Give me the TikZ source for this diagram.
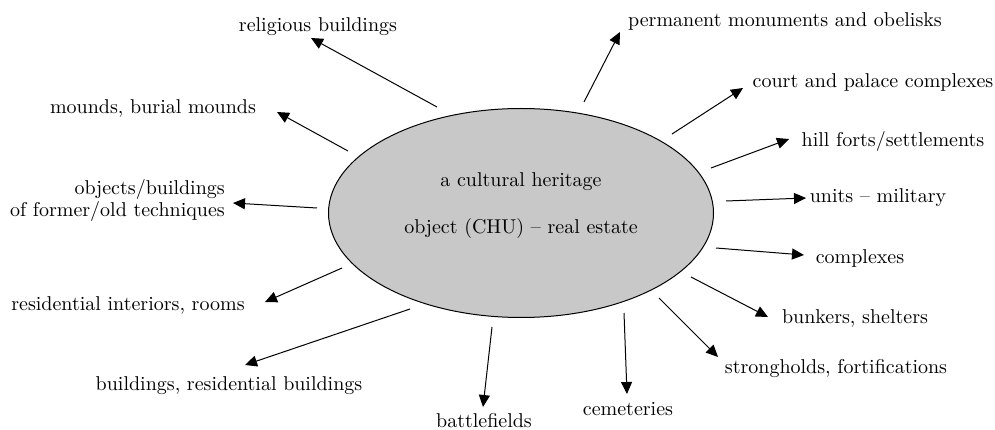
\documentclass[tikz,border=0pt]{standalone}
\usepackage{fontspec}
\setmainfont{lmroman10-regular.otf}
\usetikzlibrary{arrows.meta,shapes.geometric}
\begin{document}
\begin{tikzpicture}[x=1pt,y=-1pt,
  lbl/.style={anchor=base,inner sep=0pt,font=\fontsize{20}{22}\selectfont},
  lblr/.style={anchor=base east,inner sep=0pt,font=\fontsize{20}{22}\selectfont},
  conn/.style={line width=1pt,-{Triangle[length=12pt,width=11pt]}},
  core/.style={ellipse,draw,line width=1pt,fill={rgb,255:red,200;green,200;blue,200},
    minimum width=385pt,minimum height=209pt,inner sep=0pt}]
\useasboundingbox (0,0) rectangle (995,430);
% central object
\node[core] (e) at (521,213) {};
\node[lbl] (c1) at (521,187) {a cultural heritage};
\node[lbl] (c2) at (521,234) {object (CHU) – real estate};
% labels
\node[lbl] (l1) at (318,32) {religious buildings};
\node[lbl] (l2) at (153,114) {mounds, burial mounds};
\node[lblr] (l3a) at (225,195) {objects/buildings};
\node[lblr] (l3b) at (225,217) {of former/old techniques};
\node[lbl] (l4) at (128,310) {residential interiors, rooms};
\node[lbl] (l5) at (229,390) {buildings, residential buildings};
\node[lbl] (l6) at (484,427) {battlefields};
\node[lbl] (l7) at (628,415) {cemeteries};
\node[lbl] (l8) at (836,373) {strongholds, fortifications};
\node[lbl] (l9) at (855,323) {bunkers, shelters};
\node[lbl] (l10) at (860,263) {complexes};
\node[lbl] (l11) at (878,203) {units – military};
\node[lbl] (l12) at (893,147) {hill forts/settlements};
\node[lbl] (l13) at (873,88) {court and palace complexes};
\node[lbl] (l14) at (785,27) {permanent monuments and obelisks};
% connector ends
\coordinate (s1) at (437,107);  \coordinate (t1) at (311,38);
\coordinate (s2) at (348,151);  \coordinate (t2) at (277,112);
\coordinate (s3) at (317,208);  \coordinate (t3) at (233,203);
\coordinate (s4) at (342,268);  \coordinate (t4) at (265,302);
\coordinate (s5) at (410,309);  \coordinate (t5) at (245,365);
\coordinate (s6) at (492,327);  \coordinate (t6) at (483,407);
\coordinate (s7) at (624,313);  \coordinate (t7) at (627,394);
\coordinate (s8) at (659,298);  \coordinate (t8) at (718,357);
\coordinate (s9) at (691,277);  \coordinate (t9) at (768,317);
\coordinate (s10) at (716,248); \coordinate (t10) at (804,255);
\coordinate (s11) at (726,201); \coordinate (t11) at (806,198);
\coordinate (s12) at (711,168); \coordinate (t12) at (789,139);
\coordinate (s13) at (672,134); \coordinate (t13) at (743,88);
\coordinate (s14) at (584,102); \coordinate (t14) at (620,32);
\foreach \i in {1,...,14}{\draw[conn] (s\i) -- (t\i);}
\end{tikzpicture}
\end{document}
